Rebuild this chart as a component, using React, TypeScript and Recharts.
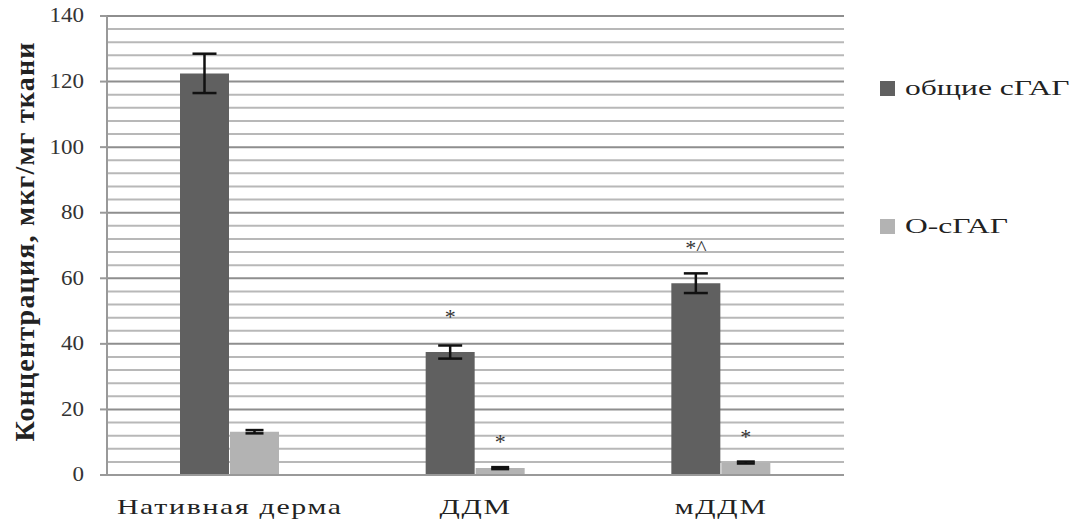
import React from "react";
import {
  Bar,
  BarChart,
  CartesianGrid,
  ErrorBar,
  LabelList,
  Legend,
  XAxis,
  YAxis,
} from "recharts";

const categories = ["Нативная дерма", "ДДМ", "мДДМ"];
const seriesNames = ["общие сГАГ", "О-сГАГ"];
const totalValues = [122.5, 37.5, 58.5];
const totalErrors = [6, 2, 3];
const totalMarks = ["", "*", "*^"];
const oValues = [13.2, 2.1, 3.8];
const oErrors = [0.5, 0.3, 0.3];
const oMarks = ["", "*", "*"];
const yLabels = [0, 20, 40, 60, 80, 100, 120, 140];
const gridValues = [0, 4, 8, 12, 16, 20, 24, 28, 32, 36, 40, 44, 48, 52, 56, 60, 64, 68, 72, 76, 80, 84, 88, 92, 96, 100, 104, 108, 112, 116, 120, 124, 128, 132, 136, 140];

const data = categories.map((name, i) => ({
  name,
  total: totalValues[i],
  totalErr: totalErrors[i],
  totalMark: totalMarks[i],
  o: oValues[i],
  oErr: oErrors[i],
  oMark: oMarks[i],
}));

const FONT = '"Liberation Serif", "DejaVu Serif", serif';
const AXIS_X = 107;

function LegendBox({ payload }: any) {
  const items = [...(payload || [])].sort(
    (a: any, b: any) => seriesNames.indexOf(a.value) - seriesNames.indexOf(b.value)
  );
  return (
    <div style={{ fontFamily: FONT, fontSize: 21, color: "#222" }}>
      {items.map((p: any, i: number) => (
        <div key={p.value} style={{ display: "flex", alignItems: "center", height: 22, marginBottom: i === 0 ? 116 : 0 }}>
          <span style={{ width: 15, height: 15, background: p.color, display: "inline-block", marginRight: 10, flex: "none" }} />
          <span style={{ display: "inline-block", transform: "scaleX(1.5)", transformOrigin: "left center", whiteSpace: "nowrap" }}>
            {p.value}
          </span>
        </div>
      ))}
    </div>
  );
}

function AxisTitle({ viewBox }: any) {
  const x = 24;
  const y = viewBox.y + viewBox.height / 2 - 4;
  return (
    <text
      x={x}
      y={y}
      transform={`rotate(-90 ${x} ${y})`}
      textAnchor="middle"
      dominantBaseline="central"
      fontFamily={FONT}
      fontSize={28}
      fontWeight={700}
      letterSpacing={1.2}
      fill="#222"
    >
      Концентрация, мкг/мг ткани
    </text>
  );
}

function XTick({ x, y, payload }: any) {
  return (
    <g transform={`translate(${x},${y + 31}) scale(1.42,1)`}>
      <text x={0} y={0} textAnchor="middle" fontFamily={FONT} fontSize={21} letterSpacing={1.2} fill="#222">
        {payload.value}
      </text>
    </g>
  );
}

function YTick({ x, y, payload }: any) {
  if (!yLabels.includes(payload.value)) return <g />;
  return (
    <g>
      <line x1={AXIS_X - 7} x2={AXIS_X} y1={y} y2={y} stroke="#999" strokeWidth={2} />
      <g transform={`translate(${x},${y}) scale(1.15,1)`}>
        <text x={0} y={0} textAnchor="end" dominantBaseline="central" fontFamily={FONT} fontSize={20} fill="#333">
          {payload.value}
        </text>
      </g>
    </g>
  );
}

function GridLine(props: any) {
  const v = gridValues[props.index];
  const major = yLabels.includes(v);
  return (
    <line
      x1={props.x1}
      x2={props.x2}
      y1={props.y1}
      y2={props.y2}
      stroke={major ? "#8e8e8e" : "#b8b8b8"}
      strokeWidth={2}
    />
  );
}

export default function App() {
  return (
    <div style={{ position: "absolute", left: 0, top: 0, width: 1082, height: 531, background: "#fff", fontFamily: FONT }}>
      <BarChart
        width={1082}
        height={531}
        data={data}
        margin={{ top: 16, right: 238, bottom: 0, left: 0 }}
        barSize={49}
        barGap={1}
      >
        <CartesianGrid yAxisId="main" vertical={false} horizontal={(p: any) => <GridLine key={p.key} {...p} />} />
        <XAxis
          dataKey="name"
          height={56}
          axisLine={{ stroke: "#999", strokeWidth: 2 }}
          tickLine={false}
          tick={<XTick />}
          interval={0}
        />
        <YAxis
          yAxisId="main"
          width={AXIS_X}
          domain={[0, 140]}
          ticks={gridValues}
          interval={0}
          axisLine={{ stroke: "#999", strokeWidth: 2 }}
          tickLine={false}
          tickSize={7}
          tickMargin={16}
          tick={<YTick />}
          label={<AxisTitle />}
        />
        <Legend
          layout="vertical"
          verticalAlign="middle"
          align="center"
          content={<LegendBox />}
          wrapperStyle={{ position: "absolute", left: 880, top: 77, width: 200 }}
        />
        <Bar yAxisId="main" dataKey="total" name={seriesNames[0]} fill="#606060" isAnimationActive={false}>
          <ErrorBar dataKey="totalErr" width={12} strokeWidth={2.5} stroke="#111" />
          <LabelList dataKey="totalMark" position="top" offset={28} fontFamily={FONT} fontSize={22} fill="#333" />
        </Bar>
        <Bar yAxisId="main" dataKey="o" name={seriesNames[1]} fill="#b3b3b3" isAnimationActive={false}>
          <ErrorBar dataKey="oErr" width={9} strokeWidth={2.5} stroke="#111" />
          <LabelList dataKey="oMark" position="top" offset={19} fontFamily={FONT} fontSize={22} fill="#333" />
        </Bar>
      </BarChart>
    </div>
  );
}
